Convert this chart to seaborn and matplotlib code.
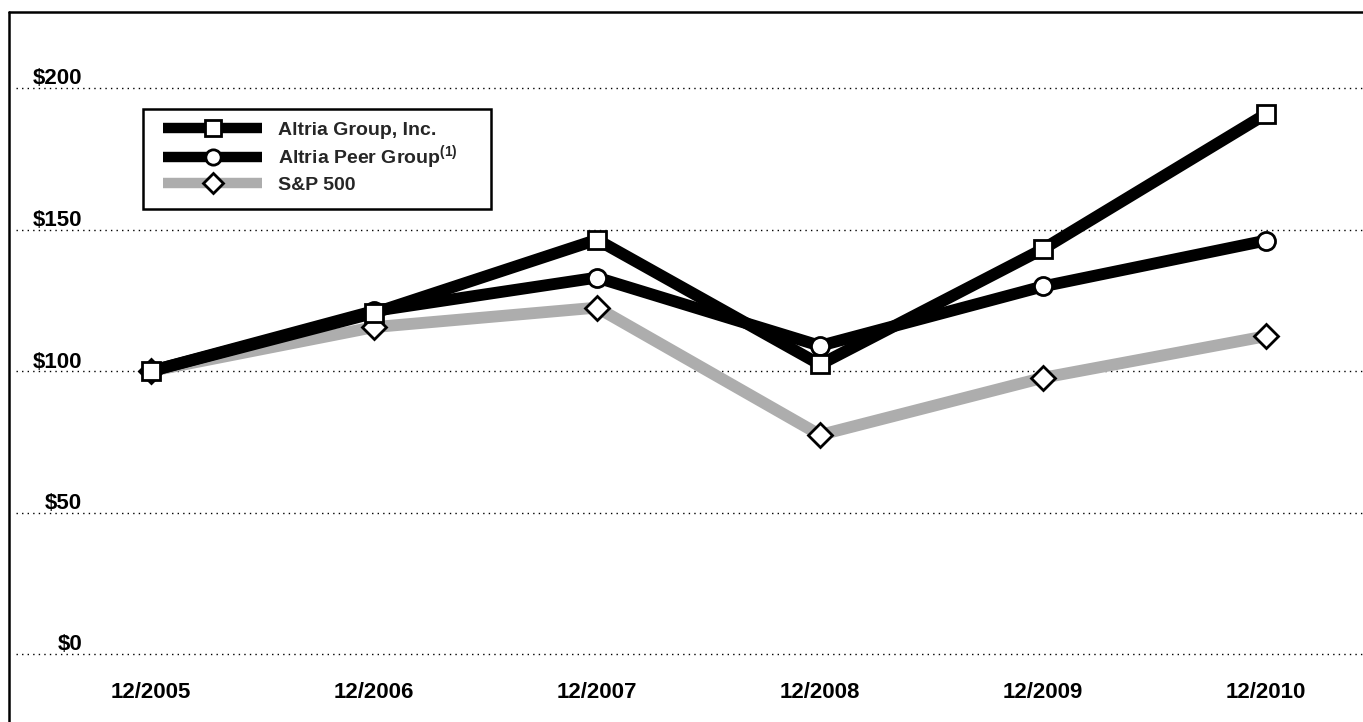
import matplotlib
matplotlib.use("Agg")
import matplotlib.pyplot as plt
from matplotlib.lines import Line2D
from matplotlib.patches import Rectangle
import seaborn as sns
import pandas as pd

# ---- data ----
dates = ['12/2005', '12/2006', '12/2007', '12/2008', '12/2009', '12/2010']
altria = [100.0, 120.5, 146.4, 102.3, 143.1, 190.8]
peer = [100.0, 121.2, 133.0, 108.9, 129.9, 146.1]
sp500 = [100.0, 115.5, 122.4, 77.4, 97.6, 112.3]
y_ticks = [0, 50, 100, 150, 200]
y_tick_labels = ['$0', '$50', '$100', '$150', '$200']
series_names = ['Altria Group, Inc.', 'Altria Peer Group$^{(1)}$', 'S&P 500']

sns.set_theme(style="white")
plt.rcParams['font.family'] = ['Liberation Sans', 'DejaVu Sans']
plt.rcParams['font.weight'] = 'bold'
plt.rcParams['mathtext.fontset'] = 'custom'
plt.rcParams['mathtext.rm'] = 'Liberation Sans:bold'
plt.rcParams['mathtext.it'] = 'Liberation Sans:bold'
plt.rcParams['mathtext.bf'] = 'Liberation Sans:bold'

W, H = 1363, 722
fig = plt.figure(figsize=(W / 100, H / 100), dpi=100)
fig.patch.set_facecolor('white')

left_px = 16
ax = fig.add_axes([left_px / W, 0, 1 - left_px / W, 1])
ax.set_facecolor('white')

x = list(range(len(dates)))
df = pd.DataFrame({'pos': x * 3,
                   'value': altria + peer + sp500,
                   'series': [series_names[0]] * 6 + [series_names[1]] * 6 + [series_names[2]] * 6})

# geometry (pixel mapping)
px_per_unit = (654 - 88) / 200.0
ymin = -(H - 654) / px_per_unit
ymax = 200 + 88 / px_per_unit
dx = (1266 - 151) / 5.0
xmin = -(151 - left_px) / dx
xmax = 5 + (W - 1266) / dx

# grid lines
for t in y_ticks:
    ax.axhline(t, color='black', linestyle=(0, (1, 3)), linewidth=1.0, zorder=1)

styles = {
    series_names[2]: dict(color='#adadad', marker='D', ms=12),
    series_names[1]: dict(color='black', marker='o', ms=13),
    series_names[0]: dict(color='black', marker='s', ms=13),
}
handles = {}
for i, name in enumerate([series_names[2], series_names[1], series_names[0]]):
    st = styles[name]
    sub = df[df['series'] == name]
    sns.lineplot(data=sub, x='pos', y='value', ax=ax, color=st['color'],
                 linewidth=8.5, marker=st['marker'], markersize=st['ms'],
                 markerfacecolor='white', markeredgecolor='black',
                 markeredgewidth=2.0, legend=False, zorder=3 + i,
                 solid_capstyle='butt', solid_joinstyle='round')
    handles[name] = Line2D([], [], color=st['color'], linewidth=7.5,
                           marker=st['marker'], markersize=st['ms'] - 2,
                           markerfacecolor='white', markeredgecolor='black',
                           markeredgewidth=2.0, solid_capstyle='butt')

ax.set_xlim(xmin, xmax)
ax.set_ylim(ymin, ymax)
ax.set_xticks([])
ax.set_yticks([])
ax.set_xlabel('')
ax.set_ylabel('')
for s in ax.spines.values():
    s.set_visible(False)

# y labels above gridlines
label_x = xmin + (82 - left_px) / dx
for t, lab in zip(y_ticks, y_tick_labels):
    ax.text(label_x, t + 3.5 / px_per_unit, lab, ha='right', va='baseline',
            fontsize=16, fontweight='bold', color='black')

# x labels
xl_y = (654 - 693) / px_per_unit
for xi, lab in zip(x, dates):
    ax.text(xi, xl_y, lab, ha='center', va='center', fontsize=16,
            fontweight='bold', color='black')

# legend box (frame) and entries
lx0, ly0, lx1, ly1 = 143, 109, 491, 209
box = Rectangle((lx0 / W, 1 - ly1 / H), (lx1 - lx0) / W, (ly1 - ly0) / H,
                transform=fig.transFigure, facecolor='white', edgecolor='black',
                linewidth=1.8, zorder=9)
ax.add_patch(box)
leg = ax.legend([handles[n] for n in series_names], series_names,
                loc='upper left', bbox_to_anchor=(163 / W, 1 - 121 / H),
                bbox_transform=fig.transFigure, frameon=False,
                borderaxespad=0, borderpad=0, handlelength=5.1,
                handletextpad=0.8, labelspacing=0.25,
                prop={'size': 14, 'weight': 'bold', 'family': 'Liberation Sans'})
leg.set_zorder(10)

# figure frame (top and left)
fig.add_artist(Line2D([9 / W, 9 / W], [0, 1 - 12 / H], color='black',
                      linewidth=1.8, transform=fig.transFigure))
fig.add_artist(Line2D([9 / W, 1], [1 - 12 / H, 1 - 12 / H], color='black',
                      linewidth=1.8, transform=fig.transFigure))

fig.savefig('out.png', dpi=100, facecolor='white')
